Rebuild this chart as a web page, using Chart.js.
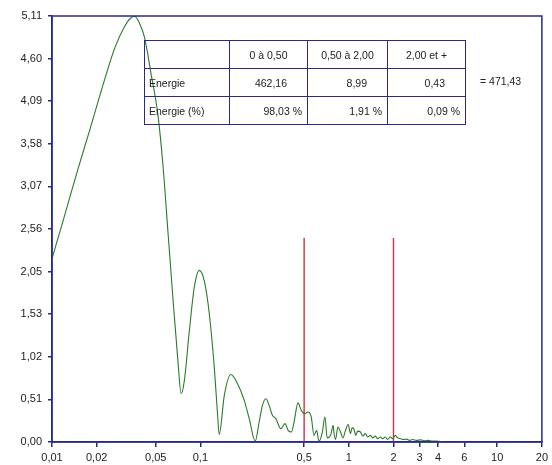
<!DOCTYPE html>
<html>
<head>
<meta charset="utf-8">
<script src="https://cdn.jsdelivr.net/npm/chart.js@4.4.1/dist/chart.umd.min.js"></script>
<style>
  body { margin: 0; background: #fff; }
  #wrap { position: relative; width: 552px; height: 465px; }
  #energy {
    position: absolute; left: 144px; top: 40px;
    border-collapse: collapse;
    font: 10.5px "Liberation Sans", Arial, sans-serif; color: #222;
  }
  #energy td { border: 1.5px solid #2a2a86; padding: 0; height: 27px; }
  #energy td.lbl { text-align: left; padding-left: 4px; }
  #energy tr.head td { text-align: center; }
  #energy tr.val td.num { text-align: right; padding-right: 20px; }
  #energy tr.pct td.num { text-align: right; padding-right: 5px; }
  #total {
    position: absolute; left: 480px; top: 75px;
    font: 10.5px "Liberation Sans", Arial, sans-serif; color: #222;
  }
</style>
</head>
<body>
<div id="wrap">
  <canvas id="spectre" width="552" height="465"></canvas>
  <table id="energy"></table>
  <div id="total"></div>
</div>
<script>
// courbe (x en échelle log, y = amplitude)
const xVals = [
  0.0100, 0.0119, 0.0147, 0.0180, 0.0221, 0.0265, 0.0309, 0.0335, 0.0360, 0.0390,
  0.0421, 0.0466, 0.0517, 0.0559, 0.0604, 0.0652, 0.0705, 0.0742, 0.0780, 0.0843,
  0.0910, 0.0984, 0.1063, 0.1148, 0.1240, 0.1304, 0.1339, 0.1449, 0.1604, 0.1780,
  0.1974, 0.2133, 0.2340, 0.2489, 0.2619, 0.2761, 0.2905, 0.3057, 0.3221, 0.3480,
  0.3720, 0.3896, 0.4101, 0.4275, 0.4547, 0.4786, 0.5044, 0.5306, 0.5585, 0.5823,
  0.6071, 0.6293, 0.6621, 0.6902, 0.7153, 0.7540, 0.7845, 0.7930, 0.8141, 0.8438,
  0.8797, 0.9116, 0.9504, 0.9893, 1.027, 1.052, 1.080, 1.114, 1.149, 1.198,
  1.242, 1.295, 1.341, 1.398, 1.449, 1.511, 1.565, 1.632, 1.691, 1.763,
  1.827, 1.905, 1.974, 2.058, 2.133, 2.234, 2.340, 2.451, 2.567, 2.688,
  2.860, 3.042, 3.236, 3.443, 3.662, 3.896, 4.144, 4.409
];
const yVals = [
  2.20, 2.66, 3.23, 3.75, 4.29, 4.73, 4.99, 5.08, 5.11, 5.02,
  4.85, 4.41, 3.93, 3.33, 2.53, 1.74, 0.98, 0.58, 0.74, 1.34,
  1.86, 2.06, 1.93, 1.54, 0.90, 0.34, 0.09, 0.56, 0.81, 0.70,
  0.50, 0.28, 0.01, 0.24, 0.44, 0.52, 0.44, 0.32, 0.28, 0.16,
  0.22, 0.14, 0.12, 0.24, 0.47, 0.38, 0.34, 0.36, 0.30, 0.08,
  0.14, 0.01, 0.11, 0.30, 0.05, 0.08, 0.20, 0.12, 0.03, 0.18,
  0.12, 0.05, 0.14, 0.21, 0.10, 0.17, 0.16, 0.08, 0.13, 0.12,
  0.07, 0.10, 0.06, 0.08, 0.05, 0.07, 0.04, 0.06, 0.04, 0.06,
  0.03, 0.06, 0.04, 0.08, 0.05, 0.04, 0.03, 0.035, 0.02, 0.03,
  0.02, 0.025, 0.015, 0.02, 0.01, 0.01, 0.005, 0.0
];

// bornes des bandes (traits rouges)
const bandX = [0.5, 2];
const bandTop = 2.45;

// graduations
const xTickVals = [0.01, 0.02, 0.05, 0.1, 0.5, 1, 2, 3, 4, 6, 10, 20];
const xTickLabels = ['0,01', '0,02', '0,05', '0,1', '0,5', '1', '2', '3', '4', '6', '10', '20'];
const yTickVals = [0, 0.5113, 1.0226, 1.5339, 2.0452, 2.5565, 3.0678, 3.5791, 4.0904, 4.6017, 5.113];
const yTickLabels = ['0,00', '0,51', '1,02', '1,53', '2,05', '2,56', '3,07', '3,58', '4,09', '4,60', '5,11'];

// tableau des énergies
const bandNames = ['0 à 0,50', '0,50 à 2,00', '2,00 et +'];
const energy = ['462,16', '8,99', '0,43'];
const energyPct = ['98,03 %', '1,91 %', '0,09 %'];
const energyTotal = '= 471,43';

const NAVY = '#2a2a86';

// tableau HTML par-dessus le graphique
const table = document.getElementById('energy');
const colW = [80, 79, 81, 79];
function addRow(cls, label, cells) {
    const tr = document.createElement('tr');
    tr.className = cls;
    const first = document.createElement('td');
    first.className = 'lbl';
    first.style.width = colW[0] + 'px';
    first.textContent = label;
    tr.appendChild(first);
    cells.forEach(txt => {
        const td = document.createElement('td');
        td.className = 'num';
        td.textContent = txt;
        tr.appendChild(td);
    });
    table.appendChild(tr);
}
addRow('head', '', bandNames);
addRow('val', 'Energie', energy);
addRow('pct', 'Energie (%)', energyPct);
table.querySelectorAll('tr.head td').forEach((td, i) => { td.style.width = (colW[i] - 2) + 'px'; });
document.getElementById('total').textContent = energyTotal;

// cadre autour de la zone de tracé
const frame = {
    id: 'frame',
    afterDraw(chart) {
        const { ctx, chartArea: a } = chart;
        ctx.save();
        ctx.strokeStyle = NAVY;
        ctx.lineWidth = 1.5;
        ctx.strokeRect(a.left, a.top, a.right - a.left, a.bottom - a.top);
        ctx.restore();
    }
};

Chart.defaults.font.family = '"Liberation Sans", Arial, sans-serif';
Chart.defaults.font.size = 11;
Chart.defaults.color = '#222';

const datasets = [{
    data: xVals.map((x, i) => ({ x: x, y: yVals[i] })),
    borderColor: '#2b7a2b',
    borderWidth: 1.1,
    pointRadius: 0,
    showLine: true,
    cubicInterpolationMode: 'monotone'
}];
bandX.forEach(x => {
    datasets.push({
        data: [{ x: x, y: 0 }, { x: x, y: bandTop }],
        borderColor: '#cc3344',
        borderWidth: 1.4,
        pointRadius: 0,
        showLine: true
    });
});

new Chart(document.getElementById('spectre'), {
    type: 'scatter',
    data: { datasets },
    options: {
        responsive: false,
        animation: false,
        layout: { padding: { top: 16, right: 8, left: 0, bottom: 0 } },
        plugins: { legend: { display: false }, tooltip: { enabled: false } },
        scales: {
            x: {
                type: 'logarithmic',
                min: 0.01,
                max: 20,
                afterBuildTicks: s => { s.ticks = xTickVals.map(v => ({ value: v })); },
                afterFit: s => { s.height = 23; },
                ticks: {
                    autoSkip: false,
                    maxRotation: 0,
                    padding: 4,
                    callback: (v, i) => xTickLabels[i]
                },
                grid: { drawOnChartArea: false, tickLength: 5, color: NAVY, lineWidth: 1.5 },
                border: { color: NAVY, width: 1.5 }
            },
            y: {
                min: 0,
                max: 5.113,
                afterBuildTicks: s => { s.ticks = yTickVals.map(v => ({ value: v })); },
                afterFit: s => { s.width = 52; },
                ticks: {
                    autoSkip: false,
                    padding: 6,
                    callback: (v, i) => yTickLabels[i]
                },
                grid: { drawOnChartArea: false, tickLength: 4, color: NAVY, lineWidth: 1.5 },
                border: { color: NAVY, width: 1.5 }
            }
        }
    },
    plugins: [frame]
});
</script>
</body>
</html>
